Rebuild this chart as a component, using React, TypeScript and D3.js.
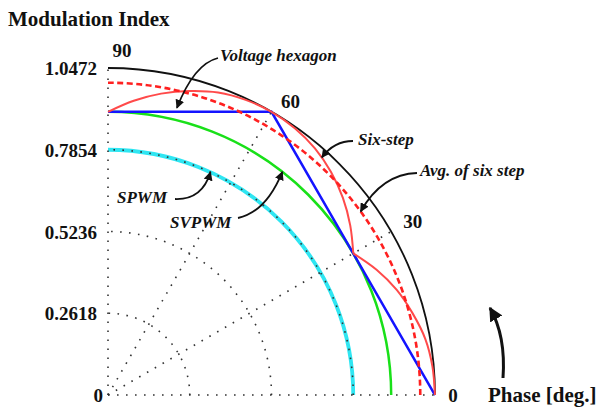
import React from "react";
import * as d3 from "d3";

// ---- data ----
const radialTicks = [0, 0.2618, 0.5236, 0.7854, 1.0472];
const radialTickLabels = ["0", "0.2618", "0.5236", "0.7854", "1.0472"];
const phaseTicks = [0, 30, 60, 90];
const phaseTickLabels = ["0", "30", "60", "90"];
const gridRadii = [0.2618, 0.5236, 0.7854];
const gridPhases = [30, 60];
const boundaryRadius = 1.0472;
const spwmRadius = 0.7854;
const svpwmRadius = 0.9069;
const avgSixStepRadius = 1.0;
const hexagonPhase = [0, 60, 90];
const hexagonR = [1.0472, 1.0472, 0.9069];
const sixStepPhase = [0, 5, 10, 15, 20, 25, 30, 35, 40, 45, 50, 55, 60, 65, 70, 75, 80, 85, 90];
const sixStepR = [1.047, 1.043, 1.032, 1.010, 0.984, 0.949, 0.907, 0.947, 0.982, 1.010, 1.031, 1.043, 1.047, 1.043, 1.031, 1.008, 0.980, 0.946, 0.907];

const W = 604, H = 409;
const ox = 108, oy = 395;
const rs = d3.scaleLinear().domain([0, 1.0472]).range([0, 327]);
const rad = (deg: number) => (deg * Math.PI) / 180;
const px = (phase: number, r: number) => ox + rs(r) * Math.cos(rad(phase));
const py = (phase: number, r: number) => oy - rs(r) * Math.sin(rad(phase));

function arcPath(r: number) {
  const p = d3.path();
  p.moveTo(ox + rs(r), oy);
  p.arc(ox, oy, rs(r), 0, -Math.PI / 2, true);
  return p.toString();
}

const serif = "'Liberation Serif', 'Times New Roman', serif";

const radialLine = d3
  .lineRadial<{ phase: number; r: number }>()
  .angle((d) => rad(90 - d.phase))
  .radius((d) => rs(d.r))
  .curve(d3.curveCatmullRom);

const sixStepPts = sixStepPhase.map((p, i) => ({ phase: p, r: sixStepR[i] }));
const seg1 = sixStepPts.filter((d) => d.phase <= 30);
const seg2 = sixStepPts.filter((d) => d.phase >= 30);

const hexLine = d3
  .line<{ phase: number; r: number }>()
  .x((d) => px(d.phase, d.r))
  .y((d) => py(d.phase, d.r));
const hexPts = hexagonPhase.map((p, i) => ({ phase: p, r: hexagonR[i] }));

// annotations: text position (px) + arrow tip in data coordinates
const annotations = [
  { text: "Voltage hexagon", tx: 220, ty: 61, sx: 218, sy: 58, cx: 194, cy: 64, tipPhase: 76.5, tipR: 0.9454 },
  { text: "Six-step", tx: 358, ty: 145, sx: 353, sy: 141, cx: 334, cy: 141, tipPhase: 48, tipR: 1.024 },
  { text: "Avg. of six step", tx: 420, ty: 176, sx: 417, sy: 173, cx: 382, cy: 174, tipPhase: 36, tipR: 1.0 },
  { text: "SPWM", tx: 117, ty: 203, sx: 175, sy: 199, cx: 202, cy: 200, tipPhase: 65.3, tipR: 0.7854 },
  { text: "SVPWM", tx: 170, ty: 228, sx: 238, sy: 218, cx: 266, cy: 212, tipPhase: 52, tipR: 0.9069 },
];

export default function App() {
  const dotted = { stroke: "#333", strokeWidth: 1.6, strokeDasharray: "1.6,7.4", fill: "none" } as const;
  return (
    <svg width={W} height={H} style={{ position: "absolute", left: 0, top: 0, background: "#fff" }}>
      <defs>
        <marker id="ah" viewBox="0 0 10 10" refX="9" refY="5" markerWidth="9" markerHeight="9" markerUnits="userSpaceOnUse" orient="auto">
          <path d="M0,0 L10,5 L0,10 z" fill="#111" />
        </marker>
        <marker id="ahBig" viewBox="0 0 10 10" refX="9" refY="5" markerWidth="14" markerHeight="14" markerUnits="userSpaceOnUse" orient="auto">
          <path d="M0,0 L10,5 L0,10 z" fill="#111" />
        </marker>
      </defs>

      {/* title */}
      <text x={8} y={26} fontFamily={serif} fontWeight="bold" fontSize={21} fill="#111">Modulation Index</text>

      {/* colored curves */}
      <path d={arcPath(spwmRadius)} stroke="#2fe6f2" strokeWidth={3.8} fill="none" />
      <path d={arcPath(svpwmRadius)} stroke="#19e019" strokeWidth={2.5} fill="none" />
      <path d={arcPath(boundaryRadius)} stroke="#111" strokeWidth={1.8} fill="none" />
      <path d={hexLine(hexPts) || ""} stroke="#1414ff" strokeWidth={2.5} fill="none" />
      <g transform={`translate(${ox},${oy})`}>
        <path d={radialLine(seg1) || ""} stroke="#ff4a4a" strokeWidth={2} fill="none" />
        <path d={radialLine(seg2) || ""} stroke="#ff4a4a" strokeWidth={2} fill="none" />
      </g>
      <path d={arcPath(avgSixStepRadius)} stroke="#ff2020" strokeWidth={2.6} strokeDasharray="6,3.5" fill="none" />

      {/* grid */}
      {gridRadii.map((r) => (
        <path key={"g" + r} d={arcPath(r)} {...dotted} />
      ))}
      <line x1={ox} y1={oy} x2={px(0, boundaryRadius)} y2={oy} {...dotted} />
      <line x1={ox} y1={oy} x2={ox} y2={py(90, boundaryRadius)} {...dotted} />
      {gridPhases.map((p) => (
        <line key={"p" + p} x1={ox} y1={oy} x2={px(p, boundaryRadius)} y2={py(p, boundaryRadius)} {...dotted} />
      ))}

      {/* radial tick labels */}
      {radialTicks.map((v, i) => (
        <text key={"rt" + i} x={i === 0 ? 103 : 97} y={oy - rs(v) + 7} textAnchor="end" fontFamily={serif} fontWeight="bold" fontSize={19} fill="#111">
          {radialTickLabels[i]}
        </text>
      ))}

      {/* phase tick labels */}
      {phaseTicks.map((p, i) => {
        const rr = rs(boundaryRadius) + 18;
        let x = ox + rr * Math.cos(rad(p));
        let y = oy - rr * Math.sin(rad(p)) + 7;
        if (p === 90) x += 14;
        if (p === 60) { x += 10; y += 5; }
        if (p === 30) { x += 6; y -= 2; }
        return (
          <text key={"pt" + i} x={x} y={y} textAnchor="middle" fontFamily={serif} fontWeight="bold" fontSize={19} fill="#111">
            {phaseTickLabels[i]}
          </text>
        );
      })}

      <text x={488} y={402} fontFamily={serif} fontWeight="bold" fontSize={21} fill="#111">Phase [deg.]</text>
      <path d="M503,378 Q506,336 490,308" stroke="#111" strokeWidth={3} fill="none" markerEnd="url(#ahBig)" />

      {/* annotations */}
      {annotations.map((a, i) => (
        <g key={"an" + i}>
          <text x={a.tx} y={a.ty} fontFamily={serif} fontWeight="bold" fontStyle="italic" fontSize={17} fill="#111">{a.text}</text>
          <path d={`M${a.sx},${a.sy} Q${a.cx},${a.cy} ${px(a.tipPhase, a.tipR)},${py(a.tipPhase, a.tipR)}`} stroke="#111" strokeWidth={1.8} fill="none" markerEnd="url(#ah)" />
        </g>
      ))}
    </svg>
  );
}
